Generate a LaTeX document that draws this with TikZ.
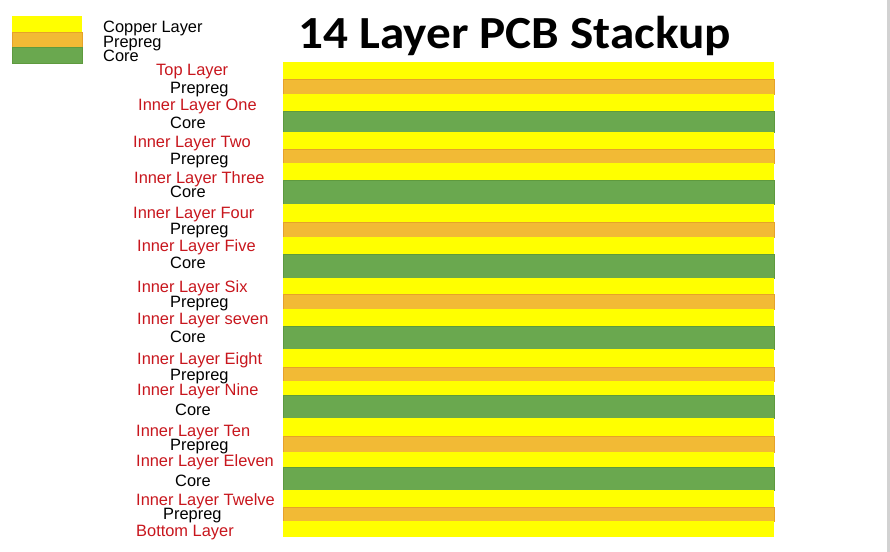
\documentclass[tikz,border=0pt]{standalone}
\usepackage{fontspec}
\setmainfont{Liberation Sans}
\newfontfamily\titlefont{Carlito}
\definecolor{cu}{HTML}{FFFF00}
\definecolor{pp}{HTML}{F2BA35}
\definecolor{ppedge}{HTML}{E6A22A}
\definecolor{cr}{HTML}{6AA84F}
\definecolor{credge}{HTML}{5E9A3E}
\definecolor{lred}{HTML}{C8161D}
\begin{document}
\begin{tikzpicture}[x=1bp,y=-1bp,
  cuband/.style={fill=cu},
  ppband/.style={fill=pp,draw=ppedge,line width=0.6bp},
  crband/.style={fill=cr,draw=credge,line width=0.6bp},
  lbl/.style={anchor=base west,inner sep=0pt,font=\fontsize{16.4bp}{19bp}\selectfont},
  cul/.style={lbl,text=lred},
  dil/.style={lbl,text=black}]
\useasboundingbox (0,0) rectangle (890,552);
\fill[white] (0,0) rectangle (890,552);
\fill[gray!35] (887,0) rectangle (890,552);
% legend
\fill[cuband] (12,16) rectangle (82,32);
\fill[ppband] (12,32) rectangle (82,47);
\fill[crband] (12,47) rectangle (82,63);
\node[name=keycu, dil] at (103,32.5){Copper Layer};
\node[name=keypp, dil] at (103,47.5){Prepreg};
\node[name=keycr, dil] at (103,61.5){Core};
% title
\node[name=title, anchor=base west, inner sep=0pt, xscale=1.07, font=\titlefont\bfseries\fontsize{46bp}{52bp}\selectfont] at (298,49){14 Layer PCB Stackup};
% stack
\fill[cuband] (283,62) rectangle (774,79);
\filldraw[ppband] (283,79) rectangle (774,94);
\fill[cuband] (283,94) rectangle (774,111);
\filldraw[crband] (283,111) rectangle (774,132);
\fill[cuband] (283,132) rectangle (774,149);
\filldraw[ppband] (283,149) rectangle (774,163);
\fill[cuband] (283,163) rectangle (774,180);
\filldraw[crband] (283,180) rectangle (774,204);
\fill[cuband] (283,204) rectangle (774,222);
\filldraw[ppband] (283,222) rectangle (774,237);
\fill[cuband] (283,237) rectangle (774,254);
\filldraw[crband] (283,254) rectangle (774,278);
\fill[cuband] (283,278) rectangle (774,294);
\filldraw[ppband] (283,294) rectangle (774,309);
\fill[cuband] (283,309) rectangle (774,326);
\filldraw[crband] (283,326) rectangle (774,349);
\fill[cuband] (283,349) rectangle (774,367);
\filldraw[ppband] (283,367) rectangle (774,381);
\fill[cuband] (283,381) rectangle (774,395);
\filldraw[crband] (283,395) rectangle (774,418);
\fill[cuband] (283,418) rectangle (774,436);
\filldraw[ppband] (283,436) rectangle (774,452);
\fill[cuband] (283,452) rectangle (774,467);
\filldraw[crband] (283,467) rectangle (774,490);
\fill[cuband] (283,490) rectangle (774,507);
\filldraw[ppband] (283,507) rectangle (774,521);
\fill[cuband] (283,521) rectangle (774,537);
% labels
\node[name=l1, cul] at (156,75.5){Top Layer};
\node[name=p1, dil] at (170,93.5){Prepreg};
\node[name=l2, cul] at (138,110.5){Inner Layer One};
\node[name=c1, dil] at (170,128.5){Core};
\node[name=l3, cul] at (133,147.5){Inner Layer Two};
\node[name=p2, dil] at (170,164.5){Prepreg};
\node[name=l4, cul] at (134,183.5){Inner Layer Three};
\node[name=c2, dil] at (170,197.5){Core};
\node[name=l5, cul] at (133,218.5){Inner Layer Four};
\node[name=p3, dil] at (170,234.5){Prepreg};
\node[name=l6, cul] at (137,251.5){Inner Layer Five};
\node[name=c3, dil] at (170,268.5){Core};
\node[name=l7, cul] at (137,292.5){Inner Layer Six};
\node[name=p4, dil] at (170,307.5){Prepreg};
\node[name=l8, cul] at (137,324.5){Inner Layer seven};
\node[name=c4, dil] at (170,342.5){Core};
\node[name=l9, cul] at (137,364.5){Inner Layer Eight};
\node[name=p5, dil] at (170,380.5){Prepreg};
\node[name=l10, cul] at (137,395.5){Inner Layer Nine};
\node[name=c5, dil] at (175,415.5){Core};
\node[name=l11, cul] at (136,436.5){Inner Layer Ten};
\node[name=p6, dil] at (170,450.5){Prepreg};
\node[name=l12, cul] at (136,466.5){Inner Layer Eleven};
\node[name=c6, dil] at (175,486.5){Core};
\node[name=l13, cul] at (136,505.5){Inner Layer Twelve};
\node[name=p7, dil] at (163,519.5){Prepreg};
\node[name=l14, cul] at (136,536.5){Bottom Layer};
\end{tikzpicture}
\end{document}
